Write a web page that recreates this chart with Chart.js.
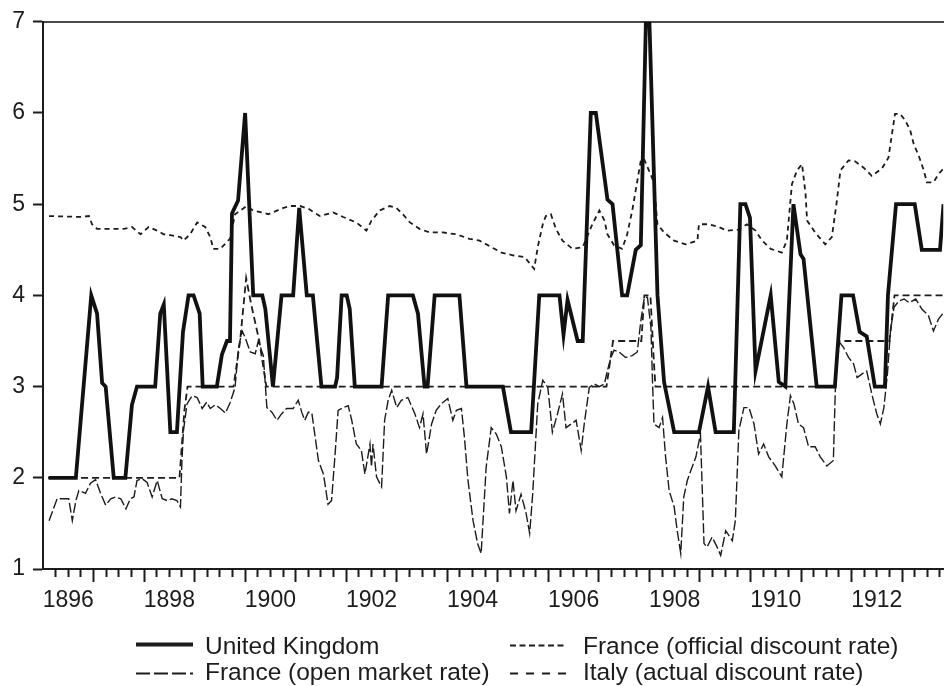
<!DOCTYPE html>
<html>
<head>
<meta charset="utf-8">
<script src="https://cdn.jsdelivr.net/npm/chart.js@4/dist/chart.umd.min.js"></script>
<style>
  html, body { margin: 0; padding: 0; background: #ffffff; }
  #wrap { width: 945px; height: 686px; }
</style>
</head>
<body>
<div id="wrap"><canvas id="c" width="945" height="686"></canvas></div>
<script>
// ---------- DATA ----------
const seriesLabels = [
  'United Kingdom',
  'France (official discount rate)',
  'France (open market rate)',
  'Italy (actual discount rate)'
];

const ukSeries = [
  [1896.11, 2], [1896.65, 2], [1896.955, 4], [1897.07, 3.8], [1897.17, 3.04], [1897.24, 3],
  [1897.40, 2], [1897.63, 2], [1897.76, 2.8], [1897.86, 3], [1898.22, 3], [1898.32, 3.8],
  [1898.39, 3.9], [1898.52, 2.5], [1898.65, 2.5], [1898.77, 3.6], [1898.88, 4], [1898.98, 4],
  [1899.10, 3.8], [1899.16, 3], [1899.44, 3], [1899.54, 3.35], [1899.64, 3.5], [1899.70, 3.5],
  [1899.74, 4.9], [1899.86, 5.04], [1900.00, 6], [1900.16, 4], [1900.34, 4], [1900.40, 3.85],
  [1900.55, 3], [1900.72, 4], [1900.95, 4], [1901.07, 4.96], [1901.22, 4], [1901.34, 4],
  [1901.51, 3], [1901.78, 3], [1901.82, 3.1], [1901.91, 4], [1902.01, 4], [1902.07, 3.85],
  [1902.17, 3], [1902.70, 3], [1902.83, 4], [1903.32, 4], [1903.42, 3.8], [1903.55, 3],
  [1903.61, 3], [1903.75, 4], [1904.24, 4], [1904.38, 3], [1905.10, 3], [1905.26, 2.5],
  [1905.66, 2.5], [1905.82, 4], [1906.22, 4], [1906.30, 3.57], [1906.38, 3.95], [1906.58, 3.5],
  [1906.68, 3.5], [1906.84, 6], [1906.94, 6], [1907.17, 5.05], [1907.27, 5], [1907.46, 4],
  [1907.56, 4], [1907.73, 4.5], [1907.83, 4.55], [1907.93, 7], [1908.00, 7], [1908.16, 4],
  [1908.29, 3.05], [1908.49, 2.5], [1908.98, 2.5], [1909.16, 3], [1909.31, 2.5], [1909.67, 2.5],
  [1909.80, 5], [1909.90, 5], [1909.99, 4.85], [1910.10, 3.17], [1910.40, 4], [1910.56, 3.05],
  [1910.69, 3], [1910.85, 5], [1910.99, 4.45], [1911.05, 4.4], [1911.31, 3], [1911.67, 3],
  [1911.80, 4], [1912.03, 4], [1912.16, 3.6], [1912.30, 3.55], [1912.46, 3], [1912.66, 3],
  [1912.72, 4], [1912.88, 5], [1913.25, 5], [1913.39, 4.5], [1913.75, 4.5], [1913.82, 5]
];

const frOfficialSeries = [
  [1896.10, 2], [1898.70, 2], [1898.80, 2.75], [1898.86, 3], [1899.77, 3], [1899.90, 3.5],
  [1900.02, 4.19], [1900.12, 3.9], [1900.28, 3.5], [1900.42, 3], [1907.15, 3], [1907.28, 3.5],
  [1907.84, 3.5], [1907.90, 4], [1908.02, 4], [1908.09, 3.25], [1908.12, 3], [1911.66, 3],
  [1911.76, 3.5], [1912.75, 3.5], [1912.85, 4], [1913.82, 4]
];

const frMarketSeries = [
  [1896.12, 1.53], [1896.28, 1.77], [1896.51, 1.77], [1896.58, 1.53], [1896.65, 1.75], [1896.71, 1.86],
  [1896.84, 1.83], [1896.94, 1.94], [1897.04, 1.98], [1897.14, 1.83], [1897.24, 1.70], [1897.34, 1.77],
  [1897.44, 1.79], [1897.54, 1.77], [1897.64, 1.66], [1897.73, 1.77], [1897.80, 1.79], [1897.86, 1.97],
  [1897.96, 1.99], [1898.06, 1.95], [1898.16, 1.79], [1898.26, 1.97], [1898.36, 1.77], [1898.46, 1.75],
  [1898.55, 1.77], [1898.65, 1.75], [1898.72, 1.68], [1898.75, 2.2], [1898.78, 2.52], [1898.85, 2.81],
  [1898.95, 2.90], [1899.05, 2.88], [1899.15, 2.76], [1899.24, 2.83], [1899.31, 2.76], [1899.41, 2.80],
  [1899.51, 2.76], [1899.61, 2.71], [1899.70, 2.82], [1899.80, 2.99], [1899.87, 3.43], [1899.94, 3.61],
  [1900.00, 3.54], [1900.10, 3.38], [1900.20, 3.36], [1900.26, 3.50], [1900.36, 3.34], [1900.43, 2.77],
  [1900.53, 2.72], [1900.63, 2.63], [1900.72, 2.70], [1900.82, 2.76], [1900.95, 2.76], [1901.05, 2.85],
  [1901.12, 2.72], [1901.18, 2.63], [1901.25, 2.72], [1901.32, 2.71], [1901.45, 2.19], [1901.55, 2.04],
  [1901.64, 1.71], [1901.71, 1.75], [1901.78, 2.26], [1901.84, 2.74], [1901.94, 2.77], [1902.04, 2.79],
  [1902.11, 2.63], [1902.20, 2.37], [1902.30, 2.30], [1902.37, 2.04], [1902.47, 2.37], [1902.50, 2.12],
  [1902.53, 2.37], [1902.60, 2.01], [1902.70, 1.90], [1902.76, 2.63], [1902.83, 2.85], [1902.90, 2.96],
  [1903.00, 2.77], [1903.09, 2.85], [1903.22, 2.88], [1903.36, 2.70], [1903.45, 2.55], [1903.52, 2.70],
  [1903.59, 2.26], [1903.69, 2.59], [1903.78, 2.74], [1903.88, 2.81], [1904.01, 2.87], [1904.11, 2.63],
  [1904.18, 2.74], [1904.28, 2.76], [1904.34, 2.44], [1904.41, 1.97], [1904.51, 1.53], [1904.60, 1.28],
  [1904.67, 1.17], [1904.77, 2.12], [1904.87, 2.55], [1904.97, 2.48], [1905.07, 2.34], [1905.17, 2.01],
  [1905.23, 1.61], [1905.30, 1.97], [1905.36, 1.64], [1905.46, 1.82], [1905.56, 1.61], [1905.63, 1.39],
  [1905.69, 1.82], [1905.79, 2.81], [1905.89, 3.07], [1905.99, 2.99], [1906.08, 2.50], [1906.18, 2.70],
  [1906.28, 2.92], [1906.35, 2.55], [1906.45, 2.59], [1906.55, 2.63], [1906.65, 2.30], [1906.71, 2.59],
  [1906.81, 2.99], [1906.91, 3.03], [1907.01, 3.00], [1907.11, 3.03], [1907.17, 3.18], [1907.24, 3.32],
  [1907.30, 3.40], [1907.40, 3.38], [1907.53, 3.32], [1907.66, 3.34], [1907.76, 3.38], [1907.83, 3.72],
  [1907.90, 3.98], [1907.96, 3.98], [1908.03, 3.65], [1908.06, 3.07], [1908.09, 2.59], [1908.19, 2.55],
  [1908.26, 2.66], [1908.32, 2.23], [1908.39, 1.86], [1908.49, 1.68], [1908.55, 1.42], [1908.62, 1.17],
  [1908.68, 1.79], [1908.75, 1.97], [1908.82, 2.08], [1908.92, 2.23], [1909.01, 2.48], [1909.08, 1.28],
  [1909.14, 1.24], [1909.24, 1.35], [1909.34, 1.24], [1909.41, 1.15], [1909.51, 1.42], [1909.64, 1.31],
  [1909.70, 1.53], [1909.77, 2.52], [1909.87, 2.77], [1909.97, 2.77], [1910.07, 2.59], [1910.16, 2.26],
  [1910.26, 2.37], [1910.36, 2.23], [1910.49, 2.13], [1910.62, 2.01], [1910.72, 2.59], [1910.79, 2.90],
  [1910.86, 2.81], [1910.95, 2.59], [1911.05, 2.55], [1911.15, 2.34], [1911.28, 2.34], [1911.38, 2.23],
  [1911.51, 2.13], [1911.64, 2.19], [1911.68, 2.99], [1911.74, 3.50], [1911.84, 3.43], [1911.94, 3.32],
  [1912.04, 3.25], [1912.11, 3.10], [1912.21, 3.14], [1912.30, 3.17], [1912.40, 2.92], [1912.50, 2.70],
  [1912.57, 2.59], [1912.64, 2.77], [1912.71, 3.14], [1912.77, 3.61], [1912.84, 3.87], [1912.94, 3.94],
  [1913.04, 3.96], [1913.14, 3.92], [1913.27, 3.96], [1913.39, 3.85], [1913.52, 3.78], [1913.62, 3.61],
  [1913.72, 3.74], [1913.82, 3.81]
];

const italySeries = [
  [1896.12, 4.87], [1896.74, 4.86], [1896.91, 4.87], [1896.97, 4.78], [1897.07, 4.73], [1897.27, 4.73],
  [1897.43, 4.73], [1897.60, 4.73], [1897.76, 4.75], [1897.93, 4.67], [1898.09, 4.75], [1898.26, 4.71],
  [1898.39, 4.67], [1898.52, 4.66], [1898.72, 4.64], [1898.78, 4.60], [1898.91, 4.67], [1899.05, 4.80],
  [1899.11, 4.78], [1899.21, 4.75], [1899.31, 4.64], [1899.37, 4.51], [1899.51, 4.51], [1899.70, 4.62],
  [1899.80, 4.89], [1900.03, 4.98], [1900.16, 4.93], [1900.33, 4.91], [1900.46, 4.89], [1900.63, 4.93],
  [1900.76, 4.96], [1900.89, 4.98], [1901.09, 4.98], [1901.25, 4.95], [1901.42, 4.89], [1901.48, 4.87],
  [1901.74, 4.91], [1901.94, 4.86], [1902.20, 4.80], [1902.40, 4.71], [1902.50, 4.82], [1902.66, 4.93],
  [1902.86, 4.98], [1902.99, 4.96], [1903.12, 4.89], [1903.26, 4.80], [1903.45, 4.73], [1903.65, 4.69],
  [1903.91, 4.69], [1904.18, 4.67], [1904.44, 4.62], [1904.64, 4.60], [1904.87, 4.53], [1905.07, 4.47],
  [1905.30, 4.44], [1905.53, 4.42], [1905.72, 4.29], [1905.79, 4.53], [1905.89, 4.78], [1905.95, 4.87],
  [1906.05, 4.89], [1906.15, 4.73], [1906.28, 4.60], [1906.48, 4.51], [1906.68, 4.53], [1906.87, 4.78],
  [1907.01, 4.93], [1907.11, 4.82], [1907.17, 4.67], [1907.30, 4.55], [1907.46, 4.51], [1907.56, 4.67],
  [1907.66, 4.93], [1907.83, 5.48], [1907.89, 5.50], [1908.09, 5.24], [1908.13, 4.96], [1908.16, 4.78],
  [1908.29, 4.69], [1908.49, 4.60], [1908.72, 4.56], [1908.95, 4.60], [1908.98, 4.78], [1909.18, 4.78],
  [1909.37, 4.75], [1909.54, 4.71], [1909.77, 4.72], [1909.93, 4.78], [1910.10, 4.71], [1910.23, 4.60],
  [1910.40, 4.51], [1910.62, 4.47], [1910.72, 4.60], [1910.82, 5.22], [1910.92, 5.37], [1911.02, 5.44],
  [1911.09, 5.11], [1911.12, 4.82], [1911.28, 4.69], [1911.48, 4.56], [1911.61, 4.64], [1911.71, 5.04],
  [1911.78, 5.37], [1911.94, 5.48], [1912.07, 5.47], [1912.24, 5.40], [1912.40, 5.31], [1912.60, 5.39],
  [1912.73, 5.51], [1912.80, 5.77], [1912.86, 5.99], [1912.96, 5.99], [1913.06, 5.92], [1913.16, 5.81],
  [1913.23, 5.66], [1913.33, 5.53], [1913.43, 5.37], [1913.49, 5.24], [1913.62, 5.24], [1913.72, 5.33],
  [1913.82, 5.39]
];

const xLabelYears = ['1896', '1898', '1900', '1902', '1904', '1906', '1908', '1910', '1912'];
const yTickValues = [1, 2, 3, 4, 5, 6, 7];
const xRange = [1896, 1913.815];

// ---------- STYLES ----------
const INK = '#1c1c1c';
const FONT = "'Liberation Sans', Arial, sans-serif";

const toPoints = s => s.map(p => ({ x: p[0], y: p[1] }));

// legend drawn in two aligned columns, like the reference
const legendPlugin = {
  id: 'twoColLegend',
  afterDraw(chart) {
    const ctx = chart.ctx;
    const items = [
      { ds: 0, x1: 136, x2: 193, tx: 205, ly: 644.5, ty: 654, w: 4, dash: [] },
      { ds: 1, x1: 510, x2: 567, tx: 583, ly: 645.5, ty: 654, w: 2, dash: [6, 3.5] },
      { ds: 2, x1: 136, x2: 193, tx: 205, ly: 673.5, ty: 680, w: 2, dash: [14, 4] },
      { ds: 3, x1: 510, x2: 567, tx: 583, ly: 673.5, ty: 680, w: 2, dash: [8, 8] }
    ];
    ctx.save();
    items.forEach(it => {
      ctx.beginPath();
      ctx.setLineDash(it.dash);
      ctx.lineWidth = it.w;
      ctx.strokeStyle = INK;
      ctx.moveTo(it.x1, it.ly);
      ctx.lineTo(it.x2, it.ly);
      ctx.stroke();
      ctx.setLineDash([]);
      ctx.fillStyle = INK;
      ctx.font = '24.5px ' + FONT;
      ctx.textAlign = 'left';
      ctx.textBaseline = 'alphabetic';
      ctx.fillText(chart.data.datasets[it.ds].label, it.tx, it.ty);
    });
    ctx.restore();
  }
};

const labelAt = {};
xLabelYears.forEach(y => { labelAt[(Number(y) + 0.5).toFixed(2)] = y; });

new Chart(document.getElementById('c'), {
  type: 'line',
  data: {
    datasets: [
      { label: seriesLabels[0], data: toPoints(ukSeries), borderColor: '#111111', borderWidth: 3.8,
        pointRadius: 0, tension: 0, fill: false },
      { label: seriesLabels[1], data: toPoints(frOfficialSeries), borderColor: INK, borderWidth: 1.8,
        borderDash: [7, 4], pointRadius: 0, tension: 0, fill: false },
      { label: seriesLabels[2], data: toPoints(frMarketSeries), borderColor: INK, borderWidth: 1.4,
        borderDash: [10, 3], pointRadius: 0, tension: 0, fill: false },
      { label: seriesLabels[3], data: toPoints(italySeries), borderColor: INK, borderWidth: 1.8,
        borderDash: [5, 4], pointRadius: 0, tension: 0, fill: false }
    ]
  },
  options: {
    responsive: false,
    animation: false,
    layout: { padding: { top: 21, left: 0, right: 0, bottom: 0 } },
    plugins: { legend: { display: false }, tooltip: { enabled: false } },
    scales: {
      x: {
        type: 'linear',
        position: 'bottom',
        min: xRange[0],
        max: xRange[1],
        afterBuildTicks(scale) {
          const t = [];
          for (let i = 1; xRange[0] + i * 0.25 <= xRange[1]; i++) t.push({ value: xRange[0] + i * 0.25 });
          scale.ticks = t;
        },
        afterFit(scale) { scale.height = 117; },
        ticks: {
          autoSkip: false,
          maxRotation: 0,
          minRotation: 0,
          padding: 5,
          color: INK,
          font: { family: FONT, size: 23 },
          callback: (v) => labelAt[Number(v).toFixed(2)] || ''
        },
        grid: {
          drawOnChartArea: false,
          drawTicks: true,
          tickLength: 13,
          tickWidth: 2,
          tickColor: INK,
          tickBorderDash: (c) => (c.tick && Number.isInteger(c.tick.value)) ? [] : [7, 30]
        },
        border: { display: true, color: INK, width: 2 }
      },
      xTop: {
        type: 'linear',
        position: 'top',
        min: xRange[0],
        max: xRange[1],
        afterFit(scale) { scale.height = 0; },
        ticks: { display: false },
        grid: { drawOnChartArea: false, drawTicks: false },
        border: { display: true, color: '#4a4a4a', width: 2 }
      },
      y: {
        type: 'linear',
        min: 1,
        max: 7,
        afterBuildTicks(scale) { scale.ticks = yTickValues.map(v => ({ value: v })); },
        afterFit(scale) { scale.width = 43; },
        ticks: {
          padding: 8,
          color: INK,
          font: { family: FONT, size: 23 }
        },
        grid: {
          drawOnChartArea: false,
          tickLength: 10,
          tickWidth: 2,
          tickColor: INK
        },
        border: { display: true, color: INK, width: 2 }
      }
    }
  },
  plugins: [legendPlugin]
});
</script>
</body>
</html>
